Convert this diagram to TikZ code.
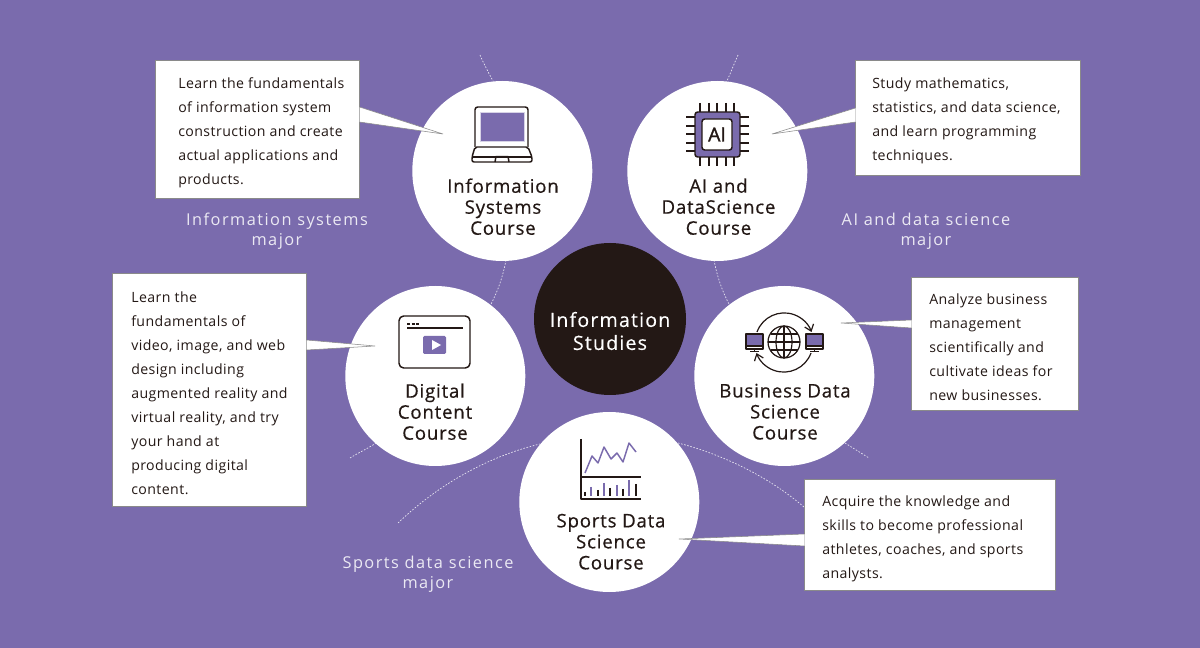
\documentclass[tikz,border=0pt]{standalone}
\usepackage{fontspec}
\setmainfont{Open Sans}
\newfontfamily\titlef[LetterSpace=4.2,FakeBold=0.5]{Open Sans}
\newfontfamily\hubf[LetterSpace=6,FakeBold=0.25]{Open Sans}
\newfontfamily\bodyf[LetterSpace=3]{Open Sans}
\newfontfamily\majorf[LetterSpace=9]{Open Sans}
\newfontfamily\chipf[FakeBold=1.5]{Open Sans}
\usetikzlibrary{arrows.meta}
\definecolor{bgp}{HTML}{7A6BAD}
\definecolor{ink}{HTML}{231815}
\definecolor{edgeg}{HTML}{8A8A8A}
\tikzset{
  x=0.75pt,y=-0.75pt,
  course/.style={circle,fill=white,minimum size=135pt,inner sep=0pt},
  hub/.style={circle,fill=ink,minimum size=114pt,inner sep=0pt},
  title/.style={font=\titlef\fontsize{14pt}{15.75pt}\selectfont,text=ink,align=center,inner sep=0pt},
  hubtitle/.style={font=\hubf\fontsize{14.7pt}{17.25pt}\selectfont,text=white,align=center,inner sep=0pt},
  major/.style={font=\majorf\fontsize{12.25pt}{15pt}\selectfont,text=white!85!bgp,align=center,inner sep=0pt},
  body/.style={font=\bodyf\fontsize{10.6pt}{18pt}\selectfont,text=ink,align=left,inner sep=0pt,anchor=north west},
  boxn/.style={draw=edgeg,line width=0.5pt,fill=white,inner sep=0pt,anchor=north west},
  ptrfill/.style={fill=white,draw=none},
  ptredge/.style={draw=edgeg,line width=0.4pt},
  dashline/.style={draw=white!85!bgp,line width=0.5pt,dash pattern=on 1.2pt off 1.2pt},
  ic/.style={draw=ink,line width=1.1pt,line join=round},
  icp/.style={draw=bgp,line width=1.1pt,line join=round},
}
\begin{document}
\begin{tikzpicture}
\useasboundingbox (0,0) rectangle (1200,648);
\fill[bgp] (0,0) rectangle (1200,648);
% major divider lines
\draw[dashline] (480,55) .. controls (484,64) and (488,72) .. (493,81);
\draw[dashline] (738,55) .. controls (734,64) and (731,72) .. (727,81);
\draw[dashline] (506,260) .. controls (503,276) and (498,291) .. (491,304);
\draw[dashline] (714,260) .. controls (717,276) and (722,291) .. (729,304);
\draw[dashline] (350,458) .. controls (358,453) and (367,449) .. (376,443);
\draw[dashline] (845,443) .. controls (853,448) and (861,453) .. (869,458);
\draw[dashline] (398,523) .. controls (440,483) and (490,456) .. (540,444);
\draw[dashline] (678,443) .. controls (725,455) and (770,478) .. (804,507);
% circles
\node[course] (cis) at (502.3,171) {};
\node[course] (cai) at (717.3,171) {};
\node[course] (cdc) at (435.3,376) {};
\node[course] (cbd) at (784.3,376) {};
\node[course] (csp) at (609.3,502) {};
\node[hub] (chub) at (610,319) {};
% boxes
\node[boxn,minimum width=153pt,minimum height=103.5pt] (bis) at (155,60.2) {};
\node[boxn,minimum width=168.75pt,minimum height=86.25pt] (bai) at (855,60.2) {};
\node[boxn,minimum width=145.5pt,minimum height=175pt] (bdc) at (112,273) {};
\node[boxn,minimum width=125.25pt,minimum height=100pt] (bbd) at (911,277) {};
\node[boxn,minimum width=188.25pt,minimum height=83.5pt] (bsp) at (804,479) {};
% pointers
\coordinate (tis) at (443,134); \coordinate (tai) at (772,134);
\coordinate (tdc) at (375,346); \coordinate (tbd) at (841,323);
\coordinate (tsp) at (679,539);
\coordinate (is1) at (359.5,107); \coordinate (is2) at (359.5,122);
\coordinate (ai1) at (855.5,108); \coordinate (ai2) at (855.5,122);
\coordinate (dc1) at (306.5,340); \coordinate (dc2) at (306.5,350);
\coordinate (bd1) at (911.5,320); \coordinate (bd2) at (911.5,328);
\coordinate (sp1) at (804.5,534); \coordinate (sp2) at (804.5,546);
\foreach \t/\a/\b in {tis/is1/is2,tai/ai1/ai2,tdc/dc1/dc2,tbd/bd1/bd2,tsp/sp1/sp2}{
  \fill[ptrfill] (\t) -- (\a) -- (\b) -- cycle;
  \draw[ptredge] (\a) -- (\t) -- (\b);
}
% circle labels
\node[title] (lis) at (503,206.7) {Information\\Systems\\Course};
\node[title] (lai) at (718.5,206.7) {AI and\\DataScience\\Course};
\node[title] (ldc) at (435,411.7) {Digital\\Content\\Course};
\node[title] (lbd) at (785,411.7) {Business Data\\Science\\Course};
\node[title] (lsp) at (611,541.7) {Sports Data\\Science\\Course};
\node[hubtitle] (lhub) at (610,331) {Information\\Studies};
% majors
\node[major] (mis) at (277,231) {Information systems\\major};
\node[major] (mai) at (926,231) {AI and data science\\major};
\node[major] (msp) at (428,574) {Sports data science\\major};
% body
\node[body] (tbis) at (178,77) {Learn the fundamentals\\of information system\\construction and create\\actual applications and\\products.};
\node[body] (tbai) at (872,77) {Study mathematics,\\statistics, and data science,\\and learn programming\\techniques.};
\node[body] (tbdc) at (131,291) {Learn the\\fundamentals of\\video, image, and web\\design including\\augmented reality and\\virtual reality, and try\\your hand at\\producing digital\\content.};
\node[body] (tbbd) at (929,293) {Analyze business\\management\\scientifically and\\cultivate ideas for\\new businesses.};
\node[body] (tbsp) at (822,495) {Acquire the knowledge and\\skills to become professional\\athletes, coaches, and sports\\analysts.};
% laptop icon
\draw[ic,fill=white,rounded corners=2pt] (475,147) -- (475,107) -- (528,107) -- (528,147);
\fill[bgp,draw=white!70!bgp,line width=0.5pt] (480,112) rectangle (524,141);
\draw[ic,rounded corners=1.5pt] (475,147) -- (472,157) -- (472,162) -- (532,162) -- (532,157) -- (528,147) -- cycle;
\draw[ic] (472.5,157) -- (531.5,157);
\draw[ic] (495,162) -- (496,156.5) -- (508,156.5) -- (509,162);
% chip icon
\foreach \p in {700,709,717,726,734}{\draw[ic] (\p,103) -- (\p,166);}
\foreach \p in {117,126,134,143,151}{\draw[ic] (686,\p) -- (749,\p);}
\draw[ic,fill=bgp,rounded corners=2pt] (695,112) rectangle (740,157);
\draw[ic,fill=white,rounded corners=2pt] (702,119) rectangle (732,150);
\node[font=\chipf\fontsize{14.5pt}{15pt}\selectfont,text=ink,inner sep=0pt] (ailabel) at (717,134.5) {AI};
% video icon
\draw[ic,rounded corners=3.5pt] (399,316) rectangle (470,368);
\draw[ic] (407,328) -- (463,328);
\foreach \p in {407,411.5,416}{\draw[ic] (\p,324) -- ++(3,0);}
\fill[bgp,rounded corners=1pt] (423,336) rectangle (446,354);
\fill[white] (432,340) -- (432,350) -- (441,345) -- cycle;
% business icon
\draw[ic,line width=0.9pt] (784,342) circle[radius=16];
\draw[ic,line width=0.9pt] (784,342) ellipse[x radius=8,y radius=16];
\draw[ic,line width=0.9pt] (784,326) -- (784,358) (768,342) -- (800,342) (770.5,334) -- (797.5,334) (770.5,350) -- (797.5,350);
\draw[ic,line width=0.9pt,-{Straight Barb[length=4.5pt,width=7pt]}] (757,332) arc[start angle=200,end angle=340,radius=29];
\draw[ic,line width=0.9pt,-{Straight Barb[length=4.5pt,width=7pt]}] (811,353) arc[start angle=20,end angle=160,radius=29];
\foreach \m in {746,806}{
  \draw[ic,line width=0.9pt,fill=bgp] (\m,334) rectangle (\m+17,346);
  \draw[ic,line width=0.9pt] (\m,346) rectangle (\m+17,349);
  \draw[ic,line width=0.9pt] (\m+8.5,349) -- (\m+8.5,351) (\m+4,351.5) -- (\m+13,351.5);
}
% chart icon
\draw[ic] (581,439) -- (581,499) -- (641,499) (581,477) -- (641,477);
\draw[icp] (585,473) -- (592,456) -- (598,463) -- (604,447) -- (611,459) -- (617,453) -- (623,462) -- (629,443) -- (636,452);
\foreach \p/\h in {585/492,598/490,610/488,623/489,636/484}{\draw[ic,line width=1pt] (\p,\h) -- (\p,496);}
\foreach \p/\h in {591/487,604/483,617/485,629/480}{\draw[icp,line width=1pt] (\p,\h) -- (\p,496);}
\end{tikzpicture}
\end{document}
